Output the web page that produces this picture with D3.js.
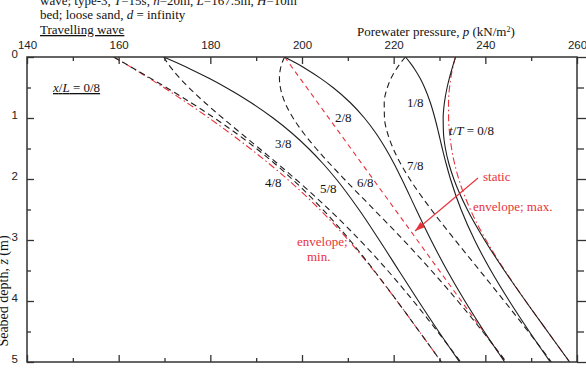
<!DOCTYPE html>
<html><head><meta charset="utf-8">
<script src="https://cdn.jsdelivr.net/npm/d3@7"></script>
<style>body{margin:0;background:#fff}svg{display:block}</style>
</head><body><svg id="c" width="586" height="385"></svg>
<script>
// ---- data ----
const depth  = [0,0.1,0.2,0.35,0.5,0.75,1,1.25,1.5,1.75,2,2.5,3,3.5,4,4.5,5];
const t0 = [233.5,233.09,232.70,232.14,231.66,231.07,230.80,230.87,231.29,232.05,233.12,236.06,239.83,244.15,248.78,253.57,258.39];
const t1 = [222.57,223.65,224.59,225.77,226.74,228.01,228.99,229.82,230.61,231.45,232.39,234.70,237.65,241.20,245.23,249.59,254.17];
const t2 = [196.2,198.69,200.98,204.06,206.76,210.56,213.62,216.13,218.24,220.09,221.76,224.91,228.14,231.66,235.54,239.75,244.23];
const t3 = [169.83,172.83,175.70,179.71,183.41,188.92,193.69,197.83,201.43,204.61,207.45,212.41,216.85,221.11,225.40,229.81,234.39];
const t4 = [158.9,161.23,163.56,167.00,170.38,175.79,180.88,185.63,190.03,194.09,197.84,204.54,210.41,215.73,220.74,225.59,230.41];
const t5 = [169.83,170.67,171.67,173.37,175.30,178.85,182.69,186.68,190.71,194.69,198.57,205.90,212.59,218.68,224.29,229.57,234.63];
const t6 = [196.2,195.63,195.28,195.08,195.28,196.30,198.06,200.37,203.08,206.06,209.20,215.69,222.11,228.22,233.98,239.41,244.57];
const t7 = [222.57,221.49,220.56,219.43,218.63,217.94,217.99,218.67,219.89,221.53,223.51,228.19,233.39,238.77,244.12,249.35,254.41];
const envMax = [233.5,233.12,232.82,232.45,232.19,231.97,231.98,232.20,232.64,233.30,234.20,236.72,240.14,244.25,248.80,253.57,258.39];
const envMin = [158.9,161.20,163.44,166.69,169.85,174.89,179.70,184.30,188.68,192.84,196.76,203.88,210.10,215.63,220.72,225.59,230.41];
const staticDepth = [0,5];
const staticP = [196.2,244.4];
const xTicks = [140,160,180,200,220,240,260];
const xMinor = [150,170,190,210,230,250];
const yTicks = [0,1,2,3,4,5];
const yMinor = [0.5,1.5,2.5,3.5,4.5];

// ---- layout ----
const svg = d3.select("#c");
const L=27,R=577,T=57,B=362;
const x = d3.scaleLinear([140,260],[L,R]);
const y = d3.scaleLinear([0,5],[T,B]);
const SERIF = "'Liberation Serif','Times New Roman',serif";
const SANS = "'Liberation Sans',Arial,sans-serif";
const BLK = "#1e1e1e", RED = "#e8323a", AX = "#333";

svg.append("clipPath").attr("id","clip").append("rect")
  .attr("x",L).attr("y",T).attr("width",R-L).attr("height",B-T);

const line = d3.line().x(d=>x(d[1])).y(d=>y(d[0])).curve(d3.curveMonotoneY);
const pts = arr => depth.map((z,i)=>[z,arr[i]]);
const g = svg.append("g").attr("clip-path","url(#clip)");

// red lines
g.append("path").attr("d",line(pts(envMin))).attr("fill","none").attr("stroke",RED).attr("stroke-width",1.1).attr("stroke-dasharray","7,3,1.5,3");
g.append("path").attr("d",line(pts(envMax))).attr("fill","none").attr("stroke",RED).attr("stroke-width",1.1).attr("stroke-dasharray","7,3,1.5,3");
g.append("path").attr("d",line(staticDepth.map((z,i)=>[z,staticP[i]]))).attr("fill","none").attr("stroke",RED).attr("stroke-width",1.1).attr("stroke-dasharray","5,4");

// black curves
[[t0,false],[t1,false],[t2,false],[t3,false],[t4,true],[t5,true],[t6,true],[t7,true]].forEach(([arr,dash])=>{
  g.append("path").attr("d",line(pts(arr))).attr("fill","none").attr("stroke",BLK)
   .attr("stroke-width",1.1).attr("stroke-dasharray",dash?"6,4":null);
});

// axes
function styleAxis(sel){ sel.select(".domain").remove(); sel.selectAll("line").attr("stroke",AX).attr("stroke-width",1.3); }
const topAx = svg.append("g").attr("transform",`translate(0,${T})`)
  .call(d3.axisTop(x).tickValues(xTicks).tickFormat(d3.format("d")).tickSizeInner(-7).tickSizeOuter(0).tickPadding(8));
styleAxis(topAx);
topAx.selectAll("text").attr("font-family",SANS).attr("font-size",11.5).attr("fill","#222");
svg.append("g").attr("transform",`translate(0,${T})`).call(d3.axisTop(x).tickValues(xMinor).tickSize(-4).tickFormat("")).call(styleAxis);
svg.append("g").attr("transform",`translate(0,${B})`).call(d3.axisBottom(x).tickValues(xTicks).tickSize(-7).tickFormat("")).call(styleAxis);
svg.append("g").attr("transform",`translate(0,${B})`).call(d3.axisBottom(x).tickValues(xMinor).tickSize(-4).tickFormat("")).call(styleAxis);

const leftAx = svg.append("g").attr("transform",`translate(${L},0)`)
  .call(d3.axisLeft(y).tickValues(yTicks).tickFormat(d3.format("d")).tickSizeInner(-7).tickSizeOuter(0).tickPadding(9));
styleAxis(leftAx);
leftAx.selectAll("text").attr("font-family",SANS).attr("font-size",11.5).attr("fill","#222").attr("dy","0.05em");
svg.append("g").attr("transform",`translate(${L},0)`).call(d3.axisLeft(y).tickValues(yMinor).tickSize(-4).tickFormat("")).call(styleAxis);
svg.append("g").attr("transform",`translate(${R},0)`).call(d3.axisRight(y).tickValues(yTicks).tickSize(9).tickFormat("")).call(styleAxis);
svg.append("g").attr("transform",`translate(${R},0)`).call(d3.axisRight(y).tickValues(yMinor).tickSize(7).tickFormat("")).call(styleAxis);

svg.append("rect").attr("x",L).attr("y",T).attr("width",R-L).attr("height",B-T)
  .attr("fill","none").attr("stroke",AX).attr("stroke-width",1.5);

// ---- texts ----
function txt(xx,yy,parts,opts={}){
  const t = svg.append("text").attr("x",xx).attr("y",yy).attr("font-family",SERIF)
    .attr("font-size",opts.size||13).attr("fill",opts.fill||"#111");
  if(opts.anchor) t.attr("text-anchor",opts.anchor);
  if(opts.transform) t.attr("transform",opts.transform);
  if(opts.underline) t.attr("text-decoration","underline");
  parts.forEach(p=>{
    if(typeof p==="string") t.append("tspan").text(p);
    else { const s=t.append("tspan").text(p.t); if(p.i) s.attr("font-style","italic"); if(p.sup) s.attr("baseline-shift","super").attr("font-size",8); }
  });
  return t;
}
txt(40,5,["wave; type-3, ",{t:"T",i:1},"=15s, ",{t:"h",i:1},"=20m, ",{t:"L",i:1},"=167.5m, ",{t:"H",i:1},"=10m"]);
txt(40,19,["bed; loose sand, ",{t:"d",i:1}," = infinity"]);
txt(40,34,["Travelling wave"],{underline:true});
txt(357,36,["Porewater pressure, ",{t:"p",i:1}," (kN/m",{t:"2",sup:1},")"]);
txt(8,291,["Seabed depth, ",{t:"z",i:1}," (m)"],{anchor:"middle",transform:"rotate(-90,8,291)",size:14});

txt(53,92,[{t:"x",i:1},"/",{t:"L",i:1}," = 0/8"],{underline:true});
txt(407,107,["1/8"]);
txt(335,122,["2/8"]);
txt(449,135,[{t:"t",i:1},"/",{t:"T",i:1}," = 0/8"]);
txt(275,148,["3/8"]);
txt(265,187,["4/8"]);
txt(320,193,["5/8"]);
txt(357,187,["6/8"]);
txt(407,170,["7/8"]);

txt(483,181,["static"],{fill:RED});
txt(473,211,["envelope; max."],{fill:RED});
txt(297,246,["envelope;"],{fill:RED});
txt(307,261,["min."],{fill:RED});

// arrow
const a0=[478,178], a1=[415,231];
svg.append("line").attr("x1",a0[0]).attr("y1",a0[1]).attr("x2",a1[0]).attr("y2",a1[1]).attr("stroke",RED).attr("stroke-width",1.1);
const ang=Math.atan2(a1[1]-a0[1],a1[0]-a0[0]), hl=10, hw=3.5;
const bx=a1[0]-hl*Math.cos(ang), by=a1[1]-hl*Math.sin(ang);
svg.append("path").attr("d",`M${a1[0]},${a1[1]}L${bx+hw*Math.sin(ang)},${by-hw*Math.cos(ang)}L${bx-hw*Math.sin(ang)},${by+hw*Math.cos(ang)}Z`).attr("fill",RED);
</script></body></html>
